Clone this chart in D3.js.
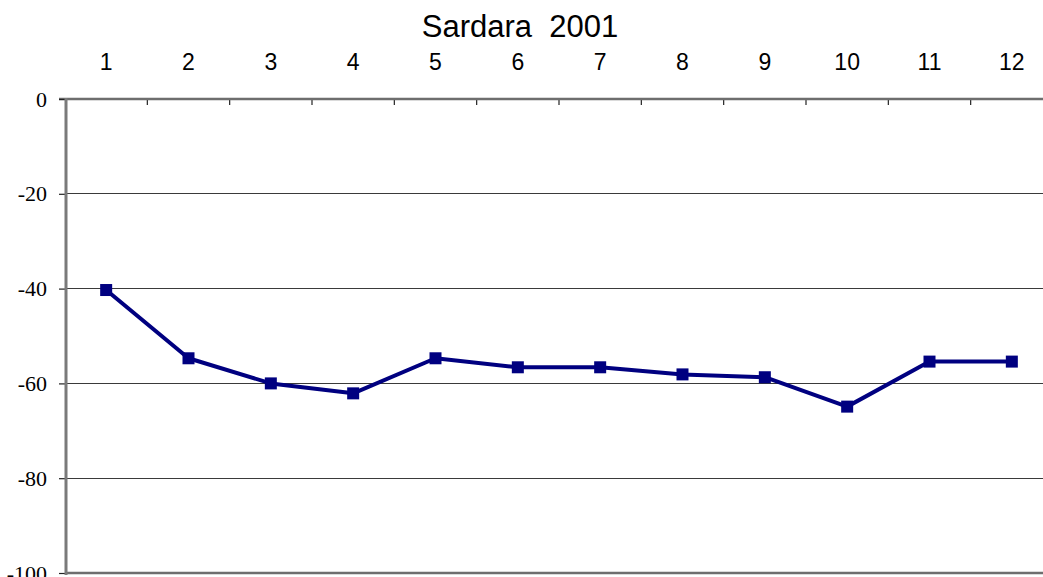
<!DOCTYPE html>
<html>
<head>
<meta charset="utf-8">
<script src="https://cdn.jsdelivr.net/npm/d3@7"></script>
<style>
  html, body { margin: 0; padding: 0; background: #fff; overflow: hidden; }
  svg { display: block; }
  .yaxis text { font-family: "Liberation Serif", "Times New Roman", serif; font-size: 22px; }
  .xaxis text { font-family: "Liberation Sans", Arial, sans-serif; font-size: 23px; }
</style>
</head>
<body>
<svg id="chart" width="1043" height="577"></svg>
<script>
// Monthly values for Sardara, 2001
const months = ["1", "2", "3", "4", "5", "6", "7", "8", "9", "10", "11", "12"];
const values = [-40.3, -54.7, -60.0, -62.1, -54.7, -56.6, -56.6, -58.1, -58.7, -64.9, -55.4, -55.4];
const yTicks = [0, -20, -40, -60, -80, -100];
const title = "Sardara\u00a0\u00a02001";

const SANS = "Liberation Sans, Arial, sans-serif";
const SERIF = "Liberation Serif, Times New Roman, serif";

const svg = d3.select("#chart");

const plot = { left: 65, right: 1053, top: 99, bottom: 573 };

const x = d3.scaleBand().domain(months).range([plot.left, plot.right]);
const y = d3.scaleLinear().domain([0, -100]).range([plot.top, plot.bottom]);

// horizontal gridlines
svg.append("g")
  .selectAll("line")
  .data(yTicks.filter(d => d !== 0 && d !== -100))
  .join("line")
  .attr("x1", plot.left).attr("x2", plot.right)
  .attr("y1", d => y(d)).attr("y2", d => y(d))
  .attr("stroke", "#3a3a3a").attr("stroke-width", 1)
  .attr("shape-rendering", "crispEdges");

// bottom frame line
svg.append("line")
  .attr("x1", plot.left).attr("x2", plot.right)
  .attr("y1", y(-100)).attr("y2", y(-100))
  .attr("stroke", "#6e6e6e").attr("stroke-width", 2.5);

// category axis along the top (value 0)
const xAxis = d3.axisTop(x).tickSize(0).tickPadding(0);
const gx = svg.append("g").attr("class", "xaxis")
  .attr("transform", `translate(0,${y(0)})`).call(xAxis)
  .attr("font-family", SANS).attr("font-size", 23);
gx.select(".domain").remove();
gx.selectAll("text")
  .attr("y", 70 - y(0))
  .attr("dy", 0)
  .attr("fill", "#000");

// tick marks between categories, pointing down into the plot
const bounds = months.slice(1).map(m => x(m));
svg.append("g")
  .selectAll("line")
  .data(bounds)
  .join("line")
  .attr("x1", d => d).attr("x2", d => d)
  .attr("y1", y(0)).attr("y2", y(0) + 6)
  .attr("stroke", "#222").attr("stroke-width", 1.2);

svg.append("line")
  .attr("x1", plot.left - 6).attr("x2", plot.right)
  .attr("y1", y(0)).attr("y2", y(0))
  .attr("stroke", "#6e6e6e").attr("stroke-width", 2.5);

// value axis on the left
const yAxis = d3.axisLeft(y).tickValues(yTicks).tickSize(6).tickPadding(12)
  .tickFormat(d => d === 0 ? "0" : "-" + Math.abs(d));
const gy = svg.append("g").attr("class", "yaxis")
  .attr("transform", `translate(${plot.left},0)`).call(yAxis)
  .attr("font-family", SERIF).attr("font-size", 22);
gy.select(".domain").remove();
gy.selectAll(".tick line").attr("stroke", "#222").attr("stroke-width", 1.2);
gy.selectAll("text").attr("fill", "#000");

svg.append("line")
  .attr("x1", plot.left + 1).attr("x2", plot.left + 1)
  .attr("y1", y(0) - 1).attr("y2", y(-100) + 2)
  .attr("stroke", "#7a7a7a").attr("stroke-width", 3);

// title
svg.append("text")
  .attr("x", 520).attr("y", 37)
  .attr("text-anchor", "middle")
  .attr("font-family", SANS)
  .attr("font-size", 31)
  .attr("fill", "#000")
  .text(title);

// data line and markers
const data = months.map((m, i) => ({ m, v: values[i] }));
const cx = d => x(d.m) + x.bandwidth() / 2;

svg.append("path")
  .datum(data)
  .attr("fill", "none")
  .attr("stroke", "#000080")
  .attr("stroke-width", 4)
  .attr("stroke-linejoin", "round")
  .attr("d", d3.line().x(cx).y(d => y(d.v)));

const ms = 12;
svg.append("g")
  .selectAll("rect")
  .data(data)
  .join("rect")
  .attr("x", d => cx(d) - ms / 2)
  .attr("y", d => y(d.v) - ms / 2)
  .attr("width", ms).attr("height", ms)
  .attr("fill", "#000080");
</script>
</body>
</html>
